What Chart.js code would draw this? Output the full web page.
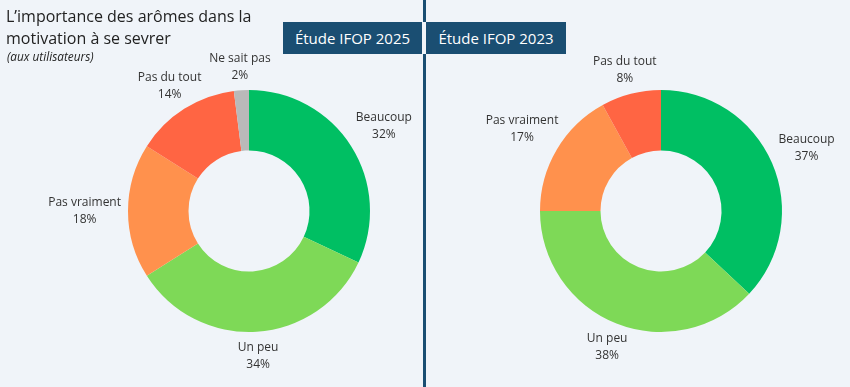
<!DOCTYPE html>
<html>
<head>
<meta charset="utf-8">
<script src="https://cdn.jsdelivr.net/npm/chart.js@4/dist/chart.umd.min.js"></script>
<style>
	html,body{margin:0;padding:0;background:#f0f4f9;}
	#wrap{position:relative;width:850px;height:387px;overflow:hidden;font-family:"Open Sans",sans-serif;}
	.pane{position:absolute;top:0;width:425px;height:387px;}
	#title{position:absolute;left:6px;top:5px;font-size:16px;line-height:22px;color:#222;}
	#sub{position:absolute;left:7px;top:48px;font-size:11.8px;font-style:italic;color:#222;}
	.head{position:absolute;top:22px;height:32px;line-height:32px;background:#1a4e72;color:#fff;font-size:15px;text-align:center;}
	.vline{position:absolute;left:423px;width:3px;background:#1a4e72;}
</style>
</head>
<body>
<div id="wrap">
	<div class="vline" style="top:0;height:22px"></div>
	<div class="vline" style="top:54px;height:333px"></div>
	<div class="pane" style="left:0"><canvas id="c2025"></canvas></div>
	<div class="pane" style="left:425px"><canvas id="c2023"></canvas></div>
	<div id="title">L’importance des arômes dans la<br>motivation à se sevrer</div>
	<div id="sub">(aux utilisateurs)</div>
	<div class="head" style="left:283px;width:139px">Étude IFOP 2025</div>
	<div class="head" style="left:426px;width:140px">Étude IFOP 2023</div>
</div>
<script>
const labels2025=["Beaucoup","Un peu","Pas vraiment","Pas du tout","Ne sait pas"];
const values2025=[32,34,18,14,2];
const labels2023=["Beaucoup","Un peu","Pas vraiment","Pas du tout"];
const values2023=[37,38,17,8];
const colors=["#00bf63","#7ed957","#ff914d","#ff6543","#b9b9b9"];

// labels outside the ring: the text box sits along the slice's mid direction,
// its nearest edge at a fixed distance from the centre
const outLabels={
	id:"outLabels",
	afterDraw(chart){
		let ctx=chart.ctx;
		let meta=chart.getDatasetMeta(0);
		let values=chart.data.datasets[0].data;
		ctx.save();
		ctx.font="12px 'Open Sans', sans-serif";
		ctx.fillStyle="#333";
		ctx.textAlign="center";
		ctx.textBaseline="middle";
		meta.data.forEach((arc,i)=>{
			let p=arc.getProps(["x","y","startAngle","endAngle","outerRadius"],true);
			let a=(p.startAngle+p.endAngle)/2;
			let dx=Math.cos(a),dy=Math.sin(a);
			let name=chart.data.labels[i];
			let hw=Math.max(ctx.measureText(name).width,ctx.measureText(values[i]+"%").width)/2;
			let hh=17;
			let t=Math.min(Math.abs(dx)>1e-6?hw/Math.abs(dx):1e9,Math.abs(dy)>1e-6?hh/Math.abs(dy):1e9);
			let r=p.outerRadius+7+t;
			let cx=p.x+dx*r;
			let cy=p.y+dy*r;
			ctx.fillText(name,cx,cy-8);
			ctx.fillText(values[i]+"%",cx,cy+9);
		});
		ctx.restore();
	}
};

function doughnut(id,labels,values,pad){
	new Chart(document.getElementById(id),{
		type:"doughnut",
		data:{
			labels:labels,
			datasets:[{
				data:values,
				backgroundColor:colors.slice(0,values.length),
				borderWidth:0,
				hoverOffset:0
			}]
		},
		options:{
			responsive:false,
			animation:false,
			cutout:"50%",
			layout:{padding:pad},
			plugins:{legend:{display:false},tooltip:{enabled:false}},
			events:[]
		},
		plugins:[outLabels]
	});
}

for(const id of ["c2025","c2023"]){
	let c=document.getElementById(id);
	c.width=425;c.height=387;
	c.style.width="425px";c.style.height="387px";
}
doughnut("c2025",labels2025,values2025,{left:128,right:55,top:90,bottom:55});
doughnut("c2023",labels2023,values2023,{left:115,right:68,top:90,bottom:55});
</script>
</body>
</html>
